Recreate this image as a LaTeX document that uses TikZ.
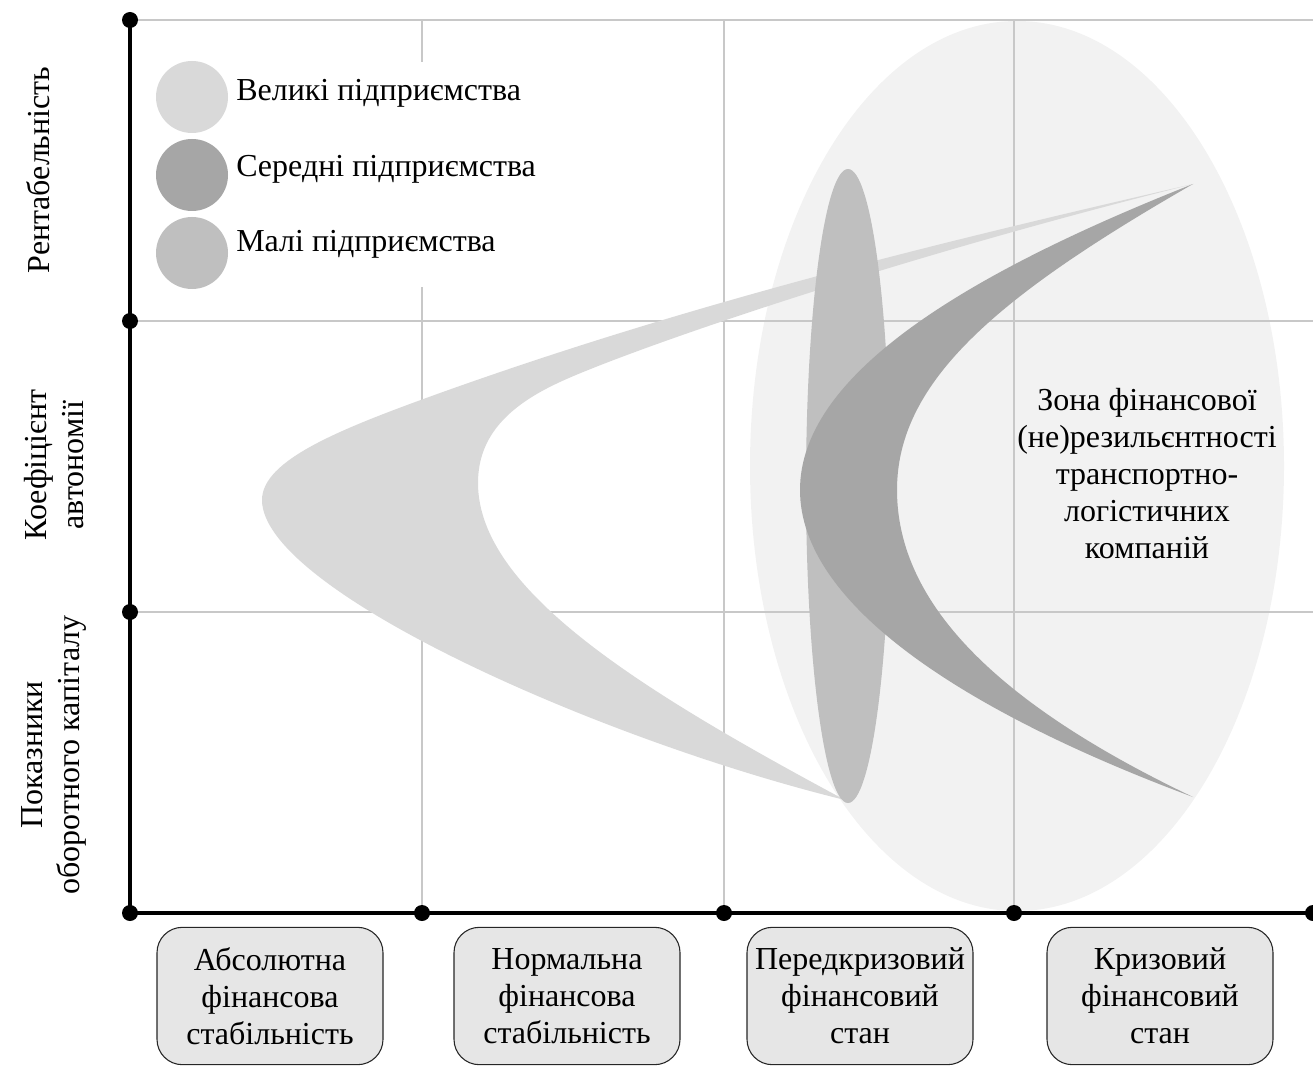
\documentclass[tikz,border=0pt]{standalone}
\usepackage{fontspec}
\setmainfont{Liberation Serif}
\definecolor{zonefill}{HTML}{F2F2F2}
\definecolor{largefill}{HTML}{D9D9D9}
\definecolor{mediumfill}{HTML}{A6A6A6}
\definecolor{smallfill}{HTML}{BFBFBF}
\definecolor{gridline}{HTML}{C8C8C8}
\definecolor{stagefill}{HTML}{E6E6E6}
\begin{document}
\begin{tikzpicture}[x=0.75pt,y=-0.75pt,
  every node/.style={font=\fontsize{24}{27.75}\selectfont, inner sep=0pt},
  gridrule/.style={draw=gridline, line width=1.1pt},
  axisrule/.style={draw=black, line width=2.3pt},
  axisdot/.style={fill=black},
  stagebox/.style={draw=black!85, line width=0.8pt, fill=stagefill,
    rounded corners=19pt, minimum width=169.5pt, minimum height=103pt,
    align=center},
  legendtext/.style={anchor=base west},
  sidelabel/.style={rotate=90, align=center}]
\useasboundingbox (0,0) rectangle (1313,1066);

% axis end points and tick positions
\coordinate (top) at (130,20);
\coordinate (y1) at (130,321);
\coordinate (y2) at (130,612);
\coordinate (o) at (130,913);
\coordinate (x1) at (422,913);
\coordinate (x2) at (724,913);
\coordinate (x3) at (1014,913);
\coordinate (xend) at (1313,913);

% zone of financial (non)resilience
\fill[zonefill] (1017,466) ellipse [x radius=267, y radius=445];

% grid
\draw[gridrule] (top) -- (1313,20);
\draw[gridrule] (y1) -- (1313,321);
\draw[gridrule] (y2) -- (1313,612);
\draw[gridrule] (x1) -- (422,20);
\draw[gridrule] (x2) -- (724,20);
\draw[gridrule] (x3) -- (1014,20);

% large enterprises
\fill[largefill] (1193,184) .. controls (950,240) and (700,300) .. (440,393)
  .. controls (340,429) and (262,460) .. (262,500)
  .. controls (262,590) and (600,740) .. (845,800)
  .. controls (640,690) and (478,590) .. (478,483)
  .. controls (478,435) and (510,405) .. (560,382)
  .. controls (620,354) and (870,265) .. (1193,184) -- cycle;

% small enterprises
\fill[smallfill] (848,486) ellipse [x radius=42, y radius=317];

% medium enterprises
\fill[mediumfill] (1193,184) .. controls (950,280) and (800,380) .. (800,490)
  .. controls (800,605) and (965,712) .. (1193,797)
  .. controls (1000,705) and (897,605) .. (897,490)
  .. controls (897,380) and (1000,295) .. (1193,184) -- cycle;

% legend
\fill[white] (140,62) rectangle (548,287);
\fill[largefill] (192,97) circle (36);
\fill[mediumfill] (192,175) circle (36);
\fill[smallfill] (192,253) circle (36);
\node[legendtext] (lgL) at (236,101) {Великі підприємства};
\node[legendtext] (lgM) at (236,177) {Середні підприємства};
\node[legendtext] (lgS) at (236,252) {Малі підприємства};

% axes
\draw[axisrule] (top) -- (o) -- (xend);
\foreach \p in {top,y1,y2,o,x1,x2,x3,xend}
  \fill[axisdot] (\p) circle (8);

% indicator labels
\node[sidelabel] (ind1) at (38,170) {Рентабельність};
\node[sidelabel] (ind2) at (54,465) {Коефіцієнт\\автономії};
\node[sidelabel] (ind3) at (54,755) {Показники\\оборотного капіталу};

% financial states
\node[stagebox] (st1) at (270,996) {Абсолютна\\фінансова\\стабільність};
\node[stagebox] (st2) at (567,996) {Нормальна\\фінансова\\стабільність};
\node[stagebox] (st3) at (860,996) {Передкризовий\\фінансовий\\стан};
\node[stagebox] (st4) at (1160,996) {Кризовий\\фінансовий\\стан};

% zone caption
\node[align=center] (zone) at (1147,474) {Зона фінансової\\(не)резильєнтності\\транспортно-\\логістичних\\компаній};
\end{tikzpicture}
\end{document}
